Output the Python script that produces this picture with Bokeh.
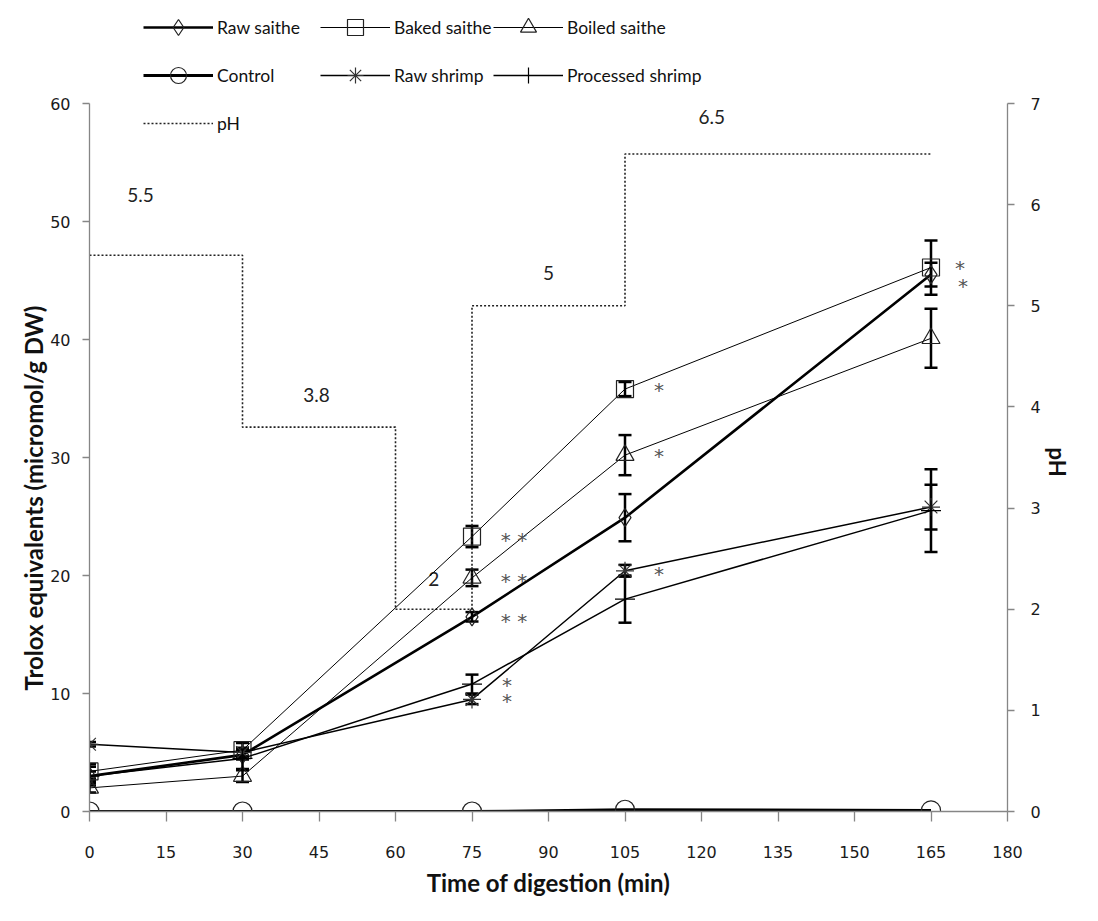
from bokeh.plotting import figure
from bokeh.models import (Range1d, LinearAxis, Legend, LegendItem, Whisker,
                          ColumnDataSource, FixedTicker, TeeHead, Title)
from bokeh.embed import file_html
from bokeh.resources import INLINE
from bokeh.core.properties import value

# ---------------- data ----------------
times = [0, 30, 75, 105, 165]

raw_saithe = [3.0, 4.8, 16.5, 24.9, 45.5]
raw_saithe_err = [0.4, 0.4, 0.4, 2.0, 1.0]
baked_saithe = [3.4, 5.2, 23.3, 35.8, 46.1]
baked_saithe_err = [0.6, 0.6, 0.9, 0.6, 2.3]
boiled_saithe = [2.0, 3.0, 19.8, 30.2, 40.1]
boiled_saithe_err = [0.4, 0.5, 0.7, 1.7, 2.5]
control = [0.0, 0.0, 0.0, 0.15, 0.1]
raw_shrimp = [5.7, 5.0, 9.5, 20.4, 25.8]
raw_shrimp_err = [0.2, 0.3, 0.4, 0.5, 1.9]
processed_shrimp = [3.0, 4.5, 10.8, 18.0, 25.5]
processed_shrimp_err = [0.8, 0.9, 0.8, 2.0, 3.5]

ph_times = [0, 30, 60, 75, 105, 165]
ph_values = [5.5, 3.8, 2.0, 5.0, 6.5, 6.5]
ph_labels = ["5.5", "3.8", "2", "5", "6.5"]
ph_label_x = [10, 44.5, 67.5, 90, 122]
ph_label_y = [6.1, 4.12, 2.3, 5.32, 6.87]

# significance marks: (series, time, text)
sig_series = ["baked", "boiled", "raw_saithe", "processed", "raw_shrimp",
              "baked", "boiled", "raw_shrimp", "baked", "raw_saithe"]
sig_time = [75, 75, 75, 75, 75, 105, 105, 105, 165, 165]
sig_text = ["* *", "* *", "* *", "*", "*", "*", "*", "*", "*", "*"]

x_ticks = list(range(0, 181, 15))
y_ticks = list(range(0, 61, 10))
ph_ticks = list(range(0, 8))

series = {
    "raw_saithe": raw_saithe, "baked": baked_saithe, "boiled": boiled_saithe,
    "control": control, "raw_shrimp": raw_shrimp, "processed": processed_shrimp,
}

# ---------------- figure ----------------
FONT_NUM = "DejaVu Sans"
FONT_TXT = "Lato"
AX_COL = "#868686"

# frame extends above the 60 / pH 7 level so the legend can sit inside it
Y_TOP = 806 / 11.8
PH_TOP = 806 / (708 / 7)

p = figure(frame_width=918, frame_height=806, output_backend="svg",
           toolbar_location=None,
           x_range=Range1d(0, 180), y_range=Range1d(0, Y_TOP),
           min_border_left=89, min_border_right=91, min_border_top=5,
           min_border_bottom=110)
p.extra_y_ranges = {"ph": Range1d(0, PH_TOP)}
p.grid.visible = False
p.outline_line_color = None
p.background_fill_color = "white"

# axes styling
xa = p.xaxis[0]
xa.ticker = FixedTicker(ticks=x_ticks)
xa.axis_label = "Time of digestion (min)"
xa.major_tick_out = 10
xa.major_tick_in = 0
xa.minor_tick_out = 0
xa.minor_tick_in = 0
xa.major_label_standoff = 24
xa.axis_label_standoff = 7

ya = p.yaxis[0]
ya.ticker = FixedTicker(ticks=y_ticks)
ya.bounds = (0, 60)
ya.major_tick_out = 7
ya.major_tick_in = 0
ya.minor_tick_out = 0
ya.minor_tick_in = 0
ya.major_label_standoff = 12

ra = LinearAxis(y_range_name="ph", ticker=FixedTicker(ticks=ph_ticks),
                bounds=(0, 7))
ra.major_tick_out = 7
ra.major_tick_in = 0
ra.minor_tick_out = 0
ra.minor_tick_in = 0
ra.major_label_standoff = 16
p.add_layout(ra, "right")

for ax in (xa, ya, ra):
    ax.axis_line_color = AX_COL
    ax.axis_line_width = 1.3
    ax.major_tick_line_color = AX_COL
    ax.major_tick_line_width = 1.3
    ax.major_label_text_font = FONT_NUM
    ax.major_label_text_font_size = "16px"
    ax.major_label_text_color = "#1a1a1a"
    ax.axis_label_text_font = FONT_TXT
    ax.axis_label_text_font_size = "24px"
    ax.axis_label_text_font_style = "bold"
    ax.axis_label_text_color = "#111111"

# vertical axis titles as side titles (positioned along the 0-60 span)
left_title = Title(text="Trolox equivalents (micromol/g DW)", align="left",
                   offset=121, standoff=0, text_font=FONT_TXT,
                   text_font_size="24px", text_font_style="bold",
                   text_color="#111111")
p.add_layout(left_title, "left")
right_title = Title(text="pH", align="left", offset=442, standoff=0,
                    text_font=FONT_TXT, text_font_size="22px",
                    text_font_style="bold", text_color="#111111")
p.add_layout(right_title, "right")

# ---------------- pH step line ----------------
ph_r = p.step(ph_times, ph_values, mode="after", y_range_name="ph",
              line_color="#222222", line_width=1.6, line_dash="2 2")
p.text(ph_label_x, ph_label_y, text=ph_labels, y_range_name="ph",
       text_font=value(FONT_TXT), text_font_size="19px", text_color="#222222",
       text_align="center", text_baseline="middle")

# ---------------- error bars ----------------
eb_x, eb_up, eb_lo = [], [], []
for vals, errs in [(raw_saithe, raw_saithe_err), (baked_saithe, baked_saithe_err),
                   (boiled_saithe, boiled_saithe_err), (raw_shrimp, raw_shrimp_err),
                   (processed_shrimp, processed_shrimp_err)]:
    for t, v, e in zip(times, vals, errs):
        eb_x.append(t)
        eb_up.append(v + e)
        eb_lo.append(v - e)
eb_src = ColumnDataSource(dict(x=eb_x, upper=eb_up, lower=eb_lo))
wh = Whisker(base="x", upper="upper", lower="lower", source=eb_src,
             line_color="black", line_width=2.5,
             upper_head=TeeHead(size=13, line_width=2.5, line_color="black"),
             lower_head=TeeHead(size=13, line_width=2.5, line_color="black"))
p.add_layout(wh)

# ---------------- series ----------------
def add_series(vals, marker, lw, msize, mcolor="#222222"):
    lr = p.line(times, vals, line_color="black", line_width=lw)
    sr = p.scatter(times, vals, marker=marker, size=msize, line_color=mcolor,
                   line_width=1.2, fill_alpha=0)
    return [lr, sr]

r_raw = add_series(raw_saithe, "diamond", 2.6, 18)
r_baked = add_series(baked_saithe, "square", 1.0, 17)
r_boiled = add_series(boiled_saithe, "triangle", 1.0, 18)
r_control = add_series(control, "circle", 2.8, 19)
r_rshrimp = add_series(raw_shrimp, "asterisk", 1.5, 18, "#333333")
r_pshrimp = add_series(processed_shrimp, "cross", 1.5, 20, "black")

# ---------------- significance marks ----------------
sig_x = [t for t in sig_time]
sig_y = [series[s][times.index(t)] for s, t in zip(sig_series, sig_time)]
sig_dx = [42, 42, 42, 35, 35, 34, 34, 34, 29, 32]
sig_dy = [3, 3, 4, 1, 2, 1, 1, 3, 0, 11]
p.text(sig_x, sig_y, text=sig_text, x_offset=sig_dx, y_offset=sig_dy,
       text_font=value(FONT_NUM), text_font_size="20px", text_color="#555555",
       text_align="center", text_baseline="middle")

# ---------------- legends ----------------
def make_legend(items, x, y):
    lg = Legend(items=items, location=(x, y), orientation="vertical",
                glyph_width=70, glyph_height=40, spacing=8, padding=0, margin=0,
                label_standoff=4, label_text_font=FONT_TXT,
                label_text_font_size="17.5px", label_text_color="#111111",
                background_fill_alpha=0, border_line_alpha=0)
    p.add_layout(lg, "center")

make_legend([LegendItem(label="Raw saithe", renderers=r_raw),
             LegendItem(label="Control", renderers=r_control),
             LegendItem(label="pH", renderers=[ph_r])], 54, 668)
make_legend([LegendItem(label="Baked saithe", renderers=r_baked),
             LegendItem(label="Raw shrimp", renderers=r_rshrimp)], 231, 716)
make_legend([LegendItem(label="Boiled saithe", renderers=r_boiled),
             LegendItem(label="Processed shrimp", renderers=r_pshrimp)], 404, 716)

open("out.html", "w").write(file_html(p, INLINE))
